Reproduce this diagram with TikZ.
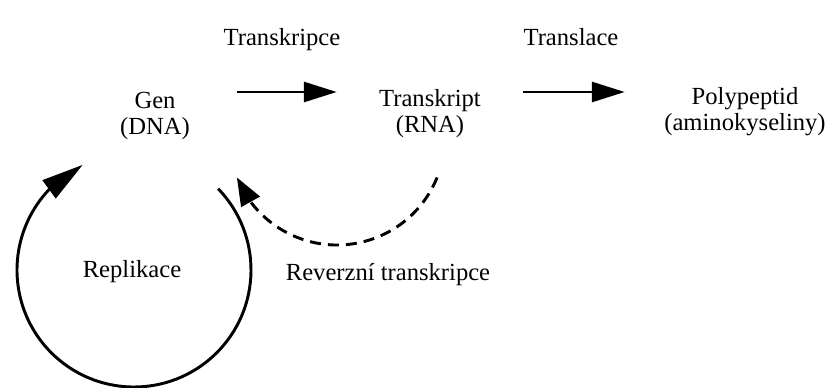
\documentclass[tikz,border=0pt]{standalone}
\usepackage{fontspec}
\setmainfont{Liberation Serif}
\usetikzlibrary{arrows.meta,bending,calc}
\begin{document}
\begin{tikzpicture}[x=0.03cm,y=0.03cm,
  lbl/.style={font=\fontsize{21}{22.2}\selectfont, inner sep=0pt},
  box/.style={lbl, align=center},
  thick line/.style={line width=2.5pt},
  conn/.style={thick line, -{Triangle[length=0.99cm,width=0.6cm]}},
  loop/.style={thick line, -{Triangle[length=1.25cm,width=0.66cm]}},
  revloop/.style={thick line, dash pattern=on 9.4pt off 6pt, -{Triangle[length=0.84cm,width=0.63cm]}}]
\useasboundingbox (0,0) rectangle (826,-388);
% top labels
\node[lbl, anchor=base] (ltrc) at (282,-45) {Transkripce};
\node[lbl, anchor=base] (ltrl) at (571,-45) {Translace};
% main nodes
\node[box, minimum width=4.92cm] (gen) at (155,-116) {Gen\\(DNA)};
\node[box, minimum width=5.58cm] (trans) at (430,-114) {Transkript\\(RNA)};
\node[box, minimum width=7.2cm] (poly) at (745,-112) {Polypeptid\\(aminokyseliny)};
% arrows
\coordinate (row) at (0,-92);
\draw[conn] (gen.east |- row) -- (trans.west |- row);
\draw[conn] (trans.east |- row) -- (poly.west |- row);
% replication loop
\coordinate (repc) at (134,-270);
\draw[loop] ($(repc)+(44:117)$) arc[start angle=44, end angle=-244, radius=117];
\node[lbl, anchor=base] (lrep) at (132,-277) {Replikace};
% reverse transcription
\coordinate (revc) at (337,-137);
\draw[revloop] ($(revc)+(-22:108)$) arc[start angle=-22, end angle=-158, radius=108];
\node[lbl, anchor=base] (lrev) at (388,-280) {Reverzní transkripce};
\end{tikzpicture}
\end{document}
